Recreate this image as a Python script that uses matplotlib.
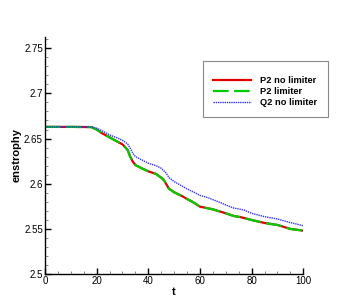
import matplotlib
matplotlib.use("Agg")
import matplotlib.pyplot as plt
from matplotlib.ticker import MultipleLocator
from matplotlib.patches import Rectangle

t_p2 = [0, 10, 18, 20, 22, 25, 28, 30, 32, 33, 34, 35, 38, 40, 43, 45, 46, 47, 48, 50,
        53, 55, 57, 59, 60, 65, 70, 73, 76, 80, 85, 90, 93, 95, 100]
p2_nolim = [2.6629, 2.6629, 2.6627, 2.6600, 2.6560, 2.6514, 2.6466, 2.6436, 2.6374, 2.6300,
            2.6244, 2.6207, 2.6163, 2.6137, 2.6108, 2.6067, 2.6041, 2.5993, 2.5945, 2.5905,
            2.5864, 2.5831, 2.5801, 2.5764, 2.5746, 2.5716, 2.5672, 2.5643, 2.5628, 2.5598,
            2.5565, 2.5543, 2.5517, 2.5499, 2.5480]
p2_lim = p2_nolim

t_q2 = [0, 10, 18, 20, 22, 25, 28, 30, 32, 33, 34, 35, 38, 40, 43, 45, 47, 48, 50, 53,
        55, 58, 60, 63, 65, 68, 70, 73, 77, 80, 85, 90, 95, 100]
q2_nolim = [2.6629, 2.6629, 2.6628, 2.6614, 2.6588, 2.6540, 2.6507, 2.6481, 2.6440, 2.6392,
            2.6337, 2.6300, 2.6256, 2.6226, 2.6200, 2.6171, 2.6115, 2.6067, 2.6023, 2.5975,
            2.5942, 2.5901, 2.5871, 2.5846, 2.5823, 2.5790, 2.5764, 2.5731, 2.5709, 2.5672,
            2.5635, 2.5609, 2.5569, 2.5535]

labels = ["P2 no limiter", "P2 limiter", "Q2 no limiter"]

plt.rcParams['font.family'] = ['Liberation Sans', 'DejaVu Sans']

fig = plt.figure(figsize=(3.46, 3.08), dpi=100)
ax = fig.add_axes([0.130, 0.1104, 0.7466, 0.7696])

ax.plot(t_p2, p2_nolim, color='#e00000', lw=1.6, ls='-', label=labels[0])
ax.plot(t_p2, p2_lim, color='#00cc00', lw=1.6, ls=(0, (7, 2.5)), label=labels[1])
ax.plot(t_q2, q2_nolim, color='#3333ff', lw=1.0, ls=(0, (1, 0.6)), label=labels[2])

ax.set_xlim(0, 100)
ax.set_ylim(2.5, 2.7625)
ax.xaxis.set_major_locator(MultipleLocator(20))
ax.xaxis.set_minor_locator(MultipleLocator(5))
ax.yaxis.set_minor_locator(MultipleLocator(0.01))
ax.set_yticks([2.5, 2.55, 2.6, 2.65, 2.7, 2.75])
ax.set_yticklabels(["2.5", "2.55", "2.6", "2.65", "2.7", "2.75"])

for s in ['top', 'right']:
    ax.spines[s].set_visible(False)
for s in ['left', 'bottom']:
    ax.spines[s].set_linewidth(1.0)

ax.tick_params(which='major', direction='in', length=4, width=1.0, labelsize=7, pad=1.5,
               colors='black')
ax.tick_params(which='minor', direction='in', length=2, width=0.6, colors='#777777')

ax.set_xlabel('t', fontsize=8, fontweight='bold', labelpad=1)
ax.set_ylabel('enstrophy', fontsize=8, fontweight='bold', labelpad=2)

# legend frame box
fig.patches.append(Rectangle((203 / 346, 1 - 117 / 308), 125 / 346, 56 / 308,
                             transform=fig.transFigure, facecolor='white',
                             edgecolor='#888888', linewidth=0.8, zorder=5))

leg = fig.legend(loc='upper left', bbox_to_anchor=(213 / 346, 1 - 76 / 308),
                 prop={'weight': 'bold', 'size': 6.7}, frameon=False,
                 handlelength=4.1, handletextpad=1.0,
                 borderpad=0, labelspacing=0.22, borderaxespad=0)
leg.set_zorder(6)

fig.savefig('out.png', dpi=100)
